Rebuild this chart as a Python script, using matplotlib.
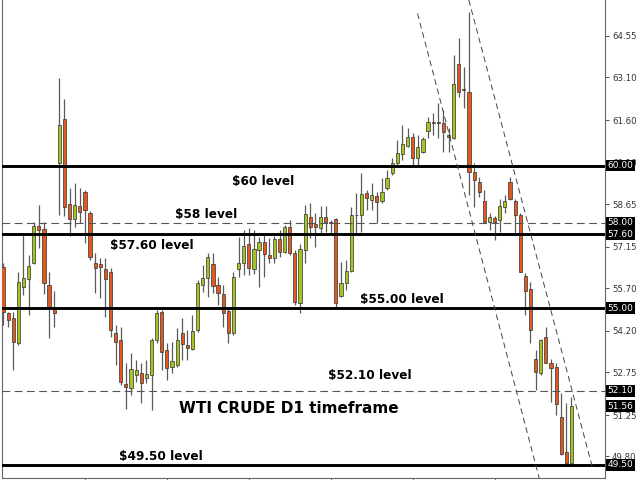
import numpy as np
from matplotlib import pyplot as plt

# WTI crude daily candles (open, high, low, close)
opens = [56.45, 54.82, 54.64, 53.79, 55.75, 56.03, 56.59, 57.88, 57.76, 55.80,
         54.97, 60.10, 61.62, 58.64, 58.13, 58.58, 59.08, 58.35, 56.59, 56.55,
         56.36, 56.28, 54.11, 53.88, 52.33, 52.19, 52.65, 52.71, 52.54, 52.65,
         53.88, 54.87, 53.53, 52.94, 53.00, 54.11, 53.71, 53.55, 54.23, 55.81,
         56.05, 56.55, 55.81, 55.49, 54.91, 54.11, 56.36, 56.57, 57.24, 56.36,
         57.04, 57.31, 56.86, 56.75, 57.41, 56.98, 57.86, 56.92, 55.18, 57.04,
         58.21, 57.94, 57.80, 58.19, 58.02, 58.12, 55.42, 55.89, 56.31, 58.27,
         58.27, 59.03, 58.79, 58.93, 58.77, 59.20, 59.74, 60.08, 60.41, 60.70,
         61.01, 60.26, 60.49, 61.22, 61.52, 61.52, 61.48, 61.07, 60.98, 63.56,
         62.68, 62.59, 59.79, 59.43, 58.77, 58.03, 58.17, 58.09, 58.56, 59.43,
         58.77, 58.27, 56.13, 55.66, 53.20, 52.73, 53.97, 53.06, 52.94, 51.19,
         49.96, 49.55]
highs = [56.57, 54.86, 54.87, 56.28, 57.60, 56.86, 58.03, 58.62, 58.03, 56.28,
         55.61, 63.06, 62.33, 59.20, 59.40, 59.20, 59.14, 58.41, 56.92, 56.75,
         56.76, 56.41, 54.41, 54.35, 53.07, 53.42, 53.18, 53.07, 53.18, 53.95,
         54.93, 54.93, 53.76, 53.82, 54.29, 54.64, 54.23, 54.76, 55.99, 56.51,
         56.93, 56.92, 56.08, 55.81, 55.05, 56.28, 57.48, 57.74, 57.80, 57.74,
         57.50, 57.62, 57.45, 57.53, 57.74, 57.92, 58.09, 57.04, 57.25, 58.62,
         58.68, 58.33, 58.58, 58.58, 58.09, 58.16, 56.63, 56.69, 58.56, 59.04,
         59.73, 59.14, 59.38, 59.08, 59.55, 59.85, 60.26, 60.90, 61.42, 61.31,
         61.13, 61.07, 61.01, 61.72, 61.83, 62.19, 61.95, 61.31, 63.88, 64.47,
         63.47, 65.40, 60.08, 59.61, 59.14, 58.33, 58.23, 58.82, 58.97, 59.61,
         58.83, 58.34, 56.24, 55.93, 53.53, 53.92, 54.33, 53.20, 53.06, 52.01,
         51.66, 51.87]
lows = [54.41, 54.34, 52.83, 53.70, 55.46, 54.76, 56.55, 57.11, 55.49, 53.94,
        54.35, 58.27, 58.23, 57.54, 57.86, 57.98, 57.29, 56.69, 55.54, 55.34,
        54.70, 54.00, 53.00, 52.30, 51.45, 51.95, 52.42, 51.66, 52.37, 51.42,
        53.78, 52.83, 52.48, 52.71, 52.93, 53.18, 53.18, 53.53, 54.16, 55.58,
        55.40, 55.52, 55.11, 54.35, 53.76, 54.06, 56.10, 56.16, 56.16, 56.20,
        55.75, 56.10, 56.57, 56.57, 56.80, 56.93, 56.86, 55.11, 54.82, 56.57,
        57.45, 57.15, 57.62, 57.68, 57.63, 55.05, 55.39, 55.64, 56.27, 57.63,
        57.68, 58.44, 58.44, 57.98, 58.69, 59.14, 59.67, 60.02, 60.20, 60.65,
        60.02, 60.02, 60.44, 60.96, 61.07, 60.96, 60.49, 60.49, 60.93, 62.42,
        62.01, 58.97, 58.56, 58.91, 58.02, 57.74, 57.39, 57.68, 58.33, 58.78,
        57.62, 56.25, 54.76, 53.76, 52.13, 52.65, 53.06, 51.72, 51.25, 49.85,
        49.53, 49.53]
closes = [54.87, 54.58, 53.82, 55.93, 56.05, 56.48, 57.88, 57.74, 55.87, 55.05,
          54.83, 61.42, 58.56, 58.13, 58.61, 58.38, 58.44, 56.78, 56.40, 56.43,
          56.01, 54.23, 53.82, 52.42, 52.22, 52.85, 52.83, 52.38, 52.68, 53.88,
          54.82, 53.47, 52.89, 53.14, 53.88, 53.73, 53.59, 54.20, 55.87, 56.07,
          56.78, 55.78, 55.52, 54.84, 54.11, 56.10, 56.57, 57.18, 56.40, 57.06,
          57.33, 56.89, 56.75, 57.43, 56.98, 57.86, 56.92, 55.21, 57.06, 58.29,
          57.84, 57.86, 58.19, 58.03, 57.99, 55.19, 55.89, 56.31, 58.27, 58.25,
          58.99, 58.85, 58.97, 58.73, 59.08, 59.55, 60.08, 60.43, 60.76, 61.01,
          60.26, 60.66, 60.92, 61.54, 61.48, 61.49, 61.19, 60.99, 62.86, 62.59,
          62.65, 59.79, 59.49, 59.08, 58.03, 58.19, 58.03, 58.59, 58.77, 58.82,
          58.27, 56.28, 55.61, 54.23, 52.75, 53.88, 53.08, 52.89, 51.64, 49.90,
          49.55, 51.56]

# support / resistance levels
solid_levels = [60.00, 57.60, 55.00, 49.50]
dashed_levels = [58.00, 52.10]
box_labels = [60.00, 58.00, 57.60, 55.00, 52.10, 51.56, 49.50]
tick_prices = [64.55, 63.10, 61.60, 60.10, 58.65, 57.15, 55.70, 54.20, 52.75, 51.25, 49.80]

# falling channel (candle index, price)
channel_lower = ([80.94, 104.69], [65.34, 49.04])
channel_upper = ([90.96, 115.12], [65.81, 49.39])

# text notes: (text, candle index, price, size)
notes = [("$60 level", 50.7, 59.46, 8.7),
         ("$58 level", 39.6, 58.27, 8.7),
         ("$57.60 level", 29.0, 57.19, 8.7),
         ("$55.00 level", 77.9, 55.30, 8.7),
         ("$52.10 level", 71.6, 52.65, 8.7),
         ("WTI CRUDE D1 timeframe", 55.8, 51.49, 11),
         ("$49.50 level", 30.9, 49.81, 8.7)]

up_col = '#a3c423'
down_col = '#e2581f'

fig = plt.figure(figsize=(6.4, 4.8), dpi=100)
ax = fig.add_axes([1.7/640, 1.7/480, 603.3/640, 478.3/480])

o = np.array(opens)
h = np.array(highs)
l = np.array(lows)
c = np.array(closes)
idx = np.arange(len(o))
up = c >= o

# wicks then bodies
ax.vlines(idx, l, h, color='#5a5a5a', lw=0.9, zorder=2)
body_low = np.minimum(o, c)
body_h = np.maximum(np.abs(c - o), 0.03)
ax.bar(idx, body_h, bottom=body_low, width=0.62,
       color=np.where(up, up_col, down_col), edgecolor='#333333', lw=0.5, zorder=3)

for lv in solid_levels:
    ax.axhline(lv, color='black', lw=2.1, zorder=4)
for lv in dashed_levels:
    ax.axhline(lv, color='#555555', lw=0.8, dashes=(7, 4), zorder=4)

ax.plot(*channel_lower, color='#444444', lw=0.7, dashes=(6, 4), zorder=4)
ax.plot(*channel_upper, color='#444444', lw=0.7, dashes=(6, 4), zorder=4)

for txt, xi, yp, fs in notes:
    ax.text(xi, yp, txt, ha='center', va='center', fontsize=fs,
            fontweight='bold', color='black', zorder=5)

ax.set_xlim(-0.25, 117.55)
ax.set_ylim(49.03, 65.81)

ax.yaxis.tick_right()
ax.set_yticks(tick_prices)
ax.set_yticklabels(['%.2f' % t for t in tick_prices])
ax.tick_params(axis='y', labelsize=6.2, colors='#333333', length=3, width=0.6, pad=2)
ax.set_xticks([16, 32, 48, 64, 80, 96])
ax.set_xticklabels([])
ax.tick_params(axis='x', length=2, width=0.6, colors='#555555')

for s in ['left', 'right', 'bottom']:
    ax.spines[s].set_color('#666666')
    ax.spines[s].set_linewidth(0.8)
ax.spines['top'].set_visible(False)

# black price boxes on the right scale
tr = ax.get_yaxis_transform()
for b in box_labels:
    ax.text(1.004, b, '%.2f' % b, transform=tr, ha='left', va='center',
            fontsize=6.5, color='white', clip_on=False, zorder=6,
            bbox=dict(facecolor='black', edgecolor='none', pad=1.0))

plt.savefig('out.png', dpi=100)
